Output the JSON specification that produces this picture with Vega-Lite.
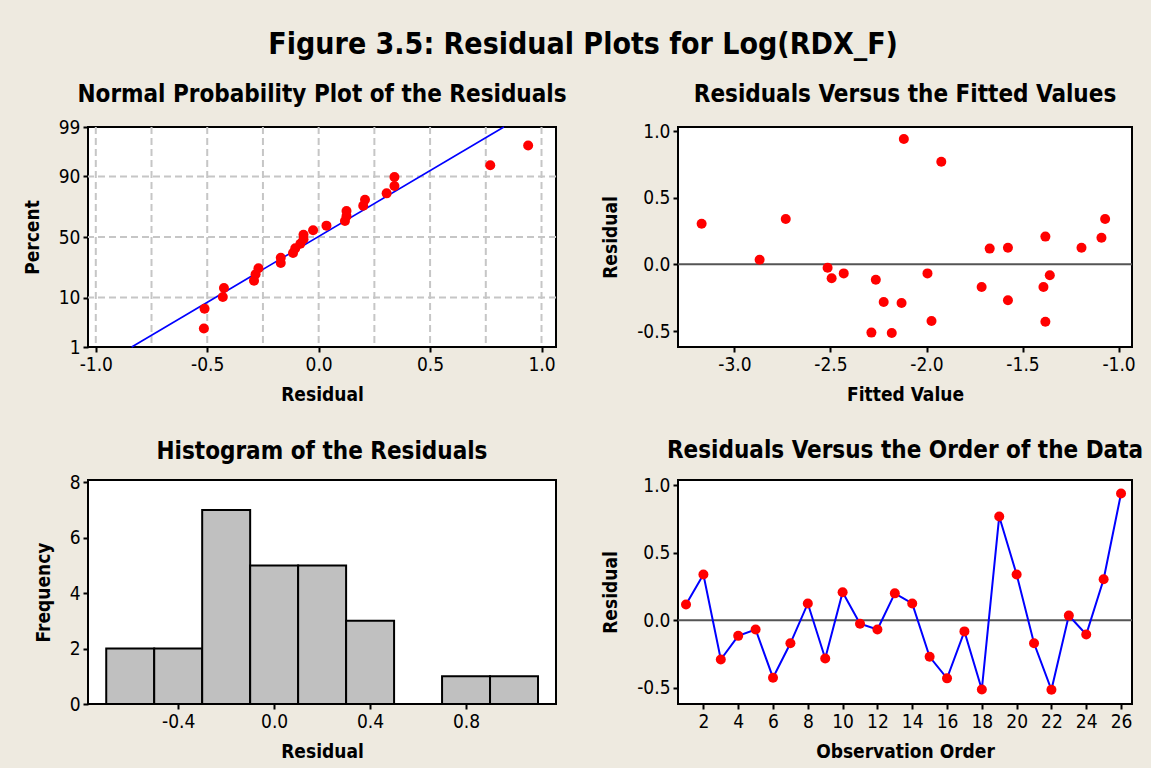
{
  "$schema": "https://vega.github.io/schema/vega-lite/v6.json",
  "background": "#eeeae0",
  "padding": {"left": 22, "top": 29, "right": 10, "bottom": 6},
  "title": {"text": "Figure 3.5: Residual Plots for Log(RDX_F)", "font": "DejaVu Sans Condensed", "fontSize": 30, "fontWeight": "bold", "color": "black", "anchor": "middle", "frame": "bounds", "offset": 22},
  "datasets": {
    "obs": [
      {"order": 1, "fitted": -1.671, "res": 0.118, "nscore": 0.339},
      {"order": 2, "fitted": -2.733, "res": 0.34, "nscore": 1.079},
      {"order": 3, "fitted": -2.13, "res": -0.29, "nscore": -0.923},
      {"order": 4, "fitted": -2.264, "res": -0.115, "nscore": -0.339},
      {"order": 5, "fitted": -2.431, "res": -0.068, "nscore": -0.0475},
      {"order": 6, "fitted": -1.974, "res": -0.425, "nscore": -1.079},
      {"order": 7, "fitted": -1.713, "res": -0.17, "nscore": -0.548},
      {"order": 8, "fitted": -1.576, "res": 0.125, "nscore": 0.441},
      {"order": 9, "fitted": -2.223, "res": -0.283, "nscore": -0.786},
      {"order": 10, "fitted": -1.381, "res": 0.208, "nscore": 0.786},
      {"order": 11, "fitted": -2.515, "res": -0.025, "nscore": 0.143},
      {"order": 12, "fitted": -1.995, "res": -0.068, "nscore": 0.0475},
      {"order": 13, "fitted": -1.089, "res": 0.2, "nscore": 0.662},
      {"order": 14, "fitted": -1.193, "res": 0.125, "nscore": 0.548},
      {"order": 15, "fitted": -1.576, "res": -0.27, "nscore": -0.662},
      {"order": 16, "fitted": -1.381, "res": -0.43, "nscore": -1.269},
      {"order": 17, "fitted": -1.358, "res": -0.082, "nscore": -0.143},
      {"order": 18, "fitted": -2.287, "res": -0.512, "nscore": -1.519},
      {"order": 19, "fitted": -1.923, "res": 0.77, "nscore": 1.519},
      {"order": 20, "fitted": -1.07, "res": 0.34, "nscore": 1.269},
      {"order": 21, "fitted": -1.391, "res": -0.17, "nscore": -0.441},
      {"order": 22, "fitted": -2.181, "res": -0.515, "nscore": -1.934},
      {"order": 23, "fitted": -2.869, "res": 0.035, "nscore": 0.24},
      {"order": 24, "fitted": -2.494, "res": -0.105, "nscore": -0.24},
      {"order": 25, "fitted": -3.171, "res": 0.305, "nscore": 0.923},
      {"order": 26, "fitted": -2.118, "res": 0.94, "nscore": 1.934}
    ],
    "fitline": [
      {"res": -0.839, "nscore": -2.326},
      {"res": 0.831, "nscore": 2.326}
    ],
    "gridx": [
      {"res": -1.0}, {"res": -0.75}, {"res": -0.5}, {"res": -0.25}, {"res": 0.0},
      {"res": 0.25}, {"res": 0.5}, {"res": 0.75}, {"res": 1.0}
    ],
    "gridy": [
      {"nscore": -1.2816}, {"nscore": 0}, {"nscore": 1.2816}
    ],
    "bins": [
      {"lo": -0.7, "hi": -0.5, "count": 2},
      {"lo": -0.5, "hi": -0.3, "count": 2},
      {"lo": -0.3, "hi": -0.1, "count": 7},
      {"lo": -0.1, "hi": 0.1, "count": 5},
      {"lo": 0.1, "hi": 0.3, "count": 5},
      {"lo": 0.3, "hi": 0.5, "count": 3},
      {"lo": 0.5, "hi": 0.7, "count": 0},
      {"lo": 0.7, "hi": 0.9, "count": 1},
      {"lo": 0.9, "hi": 1.1, "count": 1}
    ]
  },
  "columns": 2,
  "spacing": {"row": 133, "column": 122},
  "bounds": "flush",
  "concat": [
    {
      "width": 468,
      "height": 220,
      "title": {"text": "Normal Probability Plot of the Residuals", "offset": 11},
      "layer": [
        {
          "data": {"name": "gridx"},
          "mark": {"type": "rule", "color": "#c6c6c6", "strokeWidth": 2, "strokeDash": [7, 4]},
          "encoding": {
            "x": {"field": "res", "type": "quantitative", "scale": {"domain": [-1.035, 1.065], "nice": false, "zero": false},
              "axis": {"title": "Residual", "values": [-1, -0.5, 0, 0.5, 1], "format": ".1f", "labelExpr": "replace(datum.label, '\u2212', '-')"}}
          }
        },
        {
          "data": {"name": "gridy"},
          "mark": {"type": "rule", "color": "#c6c6c6", "strokeWidth": 2, "strokeDash": [7, 4]},
          "encoding": {
            "y": {"field": "nscore", "type": "quantitative", "scale": {"domain": [-2.326, 2.326], "nice": false, "zero": false},
              "axis": {"title": "Percent", "values": [-2.326, -1.2816, 0, 1.2816, 2.326], "labelExpr": "datum.value < -2 ? '1' : datum.value < -1 ? '10' : datum.value < 1 ? '50' : datum.value < 2 ? '90' : '99'"}}
          }
        },
        {
          "data": {"name": "fitline"},
          "mark": {"type": "line", "color": "#0000ff", "strokeWidth": 1.6},
          "encoding": {
            "x": {"field": "res", "type": "quantitative", "scale": {"domain": [-1.035, 1.065], "nice": false, "zero": false},
              "axis": {"title": "Residual", "values": [-1, -0.5, 0, 0.5, 1], "format": ".1f", "labelExpr": "replace(datum.label, '\u2212', '-')"}},
            "y": {"field": "nscore", "type": "quantitative", "scale": {"domain": [-2.326, 2.326], "nice": false, "zero": false},
              "axis": {"title": "Percent", "values": [-2.326, -1.2816, 0, 1.2816, 2.326], "labelExpr": "datum.value < -2 ? '1' : datum.value < -1 ? '10' : datum.value < 1 ? '50' : datum.value < 2 ? '90' : '99'"}}
          }
        },
        {
          "data": {"name": "obs"},
          "mark": {"type": "point", "filled": true, "color": "#ff0000", "opacity": 1, "size": 100},
          "encoding": {
            "x": {"field": "res", "type": "quantitative", "scale": {"domain": [-1.035, 1.065], "nice": false, "zero": false},
              "axis": {"title": "Residual", "values": [-1, -0.5, 0, 0.5, 1], "format": ".1f", "labelExpr": "replace(datum.label, '\u2212', '-')"}},
            "y": {"field": "nscore", "type": "quantitative", "scale": {"domain": [-2.326, 2.326], "nice": false, "zero": false},
              "axis": {"title": "Percent", "values": [-2.326, -1.2816, 0, 1.2816, 2.326], "labelExpr": "datum.value < -2 ? '1' : datum.value < -1 ? '10' : datum.value < 1 ? '50' : datum.value < 2 ? '90' : '99'"}}
          }
        }
      ]
    },
    {
      "width": 454,
      "height": 220,
      "title": {"text": "Residuals Versus the Fitted Values", "offset": 15},
      "layer": [
        {
          "data": {"values": [{}]},
          "mark": {"type": "rule", "color": "#555555", "strokeWidth": 2},
          "encoding": {
            "y": {"datum": 0, "type": "quantitative", "scale": {"domain": [-0.62, 1.03], "nice": false, "zero": false},
              "axis": {"title": "Residual", "values": [-0.5, 0, 0.5, 1], "format": ".1f", "labelExpr": "replace(datum.label, '\u2212', '-')"}}
          }
        },
        {
          "data": {"name": "obs"},
          "mark": {"type": "point", "filled": true, "color": "#ff0000", "opacity": 1, "size": 100},
          "encoding": {
            "x": {"field": "fitted", "type": "quantitative", "scale": {"domain": [-3.294, -0.93], "nice": false, "zero": false},
              "axis": {"title": "Fitted Value", "values": [-3, -2.5, -2, -1.5, -1], "format": ".1f", "labelExpr": "replace(datum.label, '\u2212', '-')"}},
            "y": {"field": "res", "type": "quantitative", "scale": {"domain": [-0.62, 1.03], "nice": false, "zero": false},
              "axis": {"title": "Residual", "values": [-0.5, 0, 0.5, 1], "format": ".1f", "labelExpr": "replace(datum.label, '\u2212', '-')"}}
          }
        }
      ]
    },
    {
      "width": 468,
      "height": 224,
      "title": {"text": "Histogram of the Residuals", "offset": 9},
      "data": {"name": "bins"},
      "mark": {"type": "bar", "color": "#c0c0c0", "stroke": "black", "strokeWidth": 2},
      "encoding": {
        "x": {"field": "lo", "type": "quantitative", "scale": {"domain": [-0.776, 1.175], "nice": false, "zero": false},
          "axis": {"title": "Residual", "values": [-0.4, 0, 0.4, 0.8], "format": ".1f", "labelExpr": "replace(datum.label, '\u2212', '-')"}},
        "x2": {"field": "hi"},
        "y": {"field": "count", "type": "quantitative", "scale": {"domain": [0, 8.08], "nice": false},
          "axis": {"title": "Frequency", "values": [0, 2, 4, 6, 8]}},
        "y2": {"datum": 0}
      }
    },
    {
      "width": 454,
      "height": 224,
      "title": {"text": "Residuals Versus the Order of the Data", "offset": 13.5},
      "layer": [
        {
          "data": {"values": [{}]},
          "mark": {"type": "rule", "color": "#555555", "strokeWidth": 2},
          "encoding": {
            "y": {"datum": 0, "type": "quantitative", "scale": {"domain": [-0.62, 1.04], "nice": false, "zero": false},
              "axis": {"title": "Residual", "values": [-0.5, 0, 0.5, 1], "format": ".1f", "labelExpr": "replace(datum.label, '\u2212', '-')"}}
          }
        },
        {
          "data": {"name": "obs"},
          "mark": {"type": "line", "color": "#0000ff", "strokeWidth": 2},
          "encoding": {
            "x": {"field": "order", "type": "quantitative", "scale": {"domain": [0.54, 26.63], "nice": false, "zero": false},
              "axis": {"title": "Observation Order", "values": [2, 4, 6, 8, 10, 12, 14, 16, 18, 20, 22, 24, 26]}},
            "y": {"field": "res", "type": "quantitative", "scale": {"domain": [-0.62, 1.04], "nice": false, "zero": false},
              "axis": {"title": "Residual", "values": [-0.5, 0, 0.5, 1], "format": ".1f", "labelExpr": "replace(datum.label, '\u2212', '-')"}}
          }
        },
        {
          "data": {"name": "obs"},
          "mark": {"type": "point", "filled": true, "color": "#ff0000", "opacity": 1, "size": 100},
          "encoding": {
            "x": {"field": "order", "type": "quantitative", "scale": {"domain": [0.54, 26.63], "nice": false, "zero": false},
              "axis": {"title": "Observation Order", "values": [2, 4, 6, 8, 10, 12, 14, 16, 18, 20, 22, 24, 26]}},
            "y": {"field": "res", "type": "quantitative", "scale": {"domain": [-0.62, 1.04], "nice": false, "zero": false},
              "axis": {"title": "Residual", "values": [-0.5, 0, 0.5, 1], "format": ".1f", "labelExpr": "replace(datum.label, '\u2212', '-')"}}
          }
        }
      ]
    }
  ],
  "config": {
    "font": "DejaVu Sans Condensed",
    "view": {"stroke": "black", "strokeWidth": 2, "fill": "white"},
    "title": {"font": "DejaVu Sans Condensed", "fontSize": 24, "fontWeight": "bold", "color": "black", "anchor": "middle", "frame": "group"},
    "axis": {
      "labelFontSize": 19, "labelColor": "black", "labelFont": "DejaVu Sans Condensed",
      "titleFont": "DejaVu Sans Condensed", "titleFontSize": 19, "titleFontWeight": "bold", "titleColor": "black",
      "domain": false, "grid": false, "ticks": true, "tickColor": "black", "tickSize": 5, "tickWidth": 2,
      "labelPadding": 3, "labelFlush": false, "labelOverlap": false, "labelBound": false
    },
    "axisX": {"titlePadding": 11},
    "axisY": {"titlePadding": 16}
  }
}
